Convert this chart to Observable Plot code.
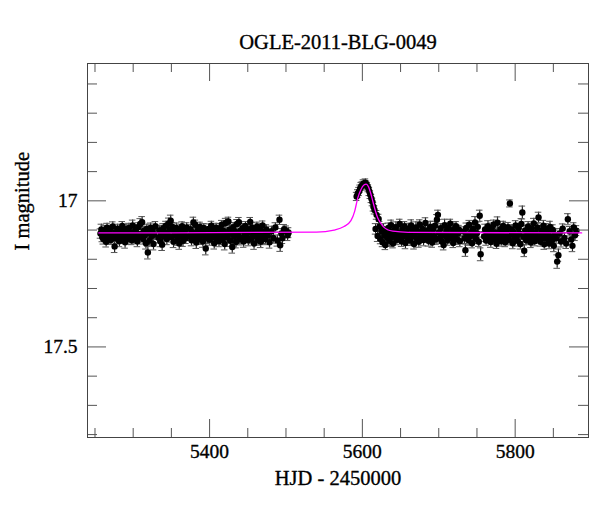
<!DOCTYPE html>
<html>
<head>
<meta charset="utf-8">
<script src="https://cdn.jsdelivr.net/npm/d3@7"></script>
<script src="https://cdn.jsdelivr.net/npm/@observablehq/plot@0.6"></script>
<style>
  html, body { margin: 0; padding: 0; background: #fff; }
</style>
</head>
<body>
<div id="chart"></div>
<script>
// ---------- data ----------
const title = "OGLE-2011-BLG-0049";
const xLabel = "HJD - 2450000";
const yLabel = "I magnitude";

const xMajor = [5400, 5600, 5800];
const xMinor = [5250, 5300, 5350, 5450, 5500, 5550, 5650, 5700, 5750, 5850];
const yMajor = [17, 17.5];
const yMinor = [16.6, 16.7, 16.8, 16.9, 17.1, 17.2, 17.3, 17.4, 17.6, 17.7, 17.8];

// 2010 season baseline
const t1 = [
5257.2,5258.4,5259.6,5260.9,5262.1,5263.2,5264.6,5265.8,5267.0,5268.3,
5269.5,5270.8,5272.0,5273.3,5274.5,5275.7,5277.0,5278.2,5279.5,5280.7,
5282.0,5283.2,5284.4,5285.7,5286.9,5288.2,5289.4,5290.6,5291.9,5293.1,
5294.4,5295.6,5296.8,5298.1,5299.3,5300.6,5301.8,5303.0,5304.3,5305.5,
5306.8,5308.0,5309.2,5310.5,5311.7,5313.0,5314.2,5315.4,5316.7,5317.9,
5319.2,5320.4,5321.6,5322.9,5324.1,5325.4,5326.6,5327.8,5329.1,5333.0,
5334.2,5335.5,5336.7,5337.9,5339.2,5340.4,5341.7,5342.9,5344.1,5345.4,
5346.6,5347.9,5349.1,5350.3,5351.6,5352.8,5354.1,5355.3,5356.5,5357.8,
5359.0,5360.3,5361.5,5362.7,5364.0,5365.2,5366.5,5367.7,5368.9,5370.0,
5373.9,5375.1,5376.4,5377.6,5378.8,5380.1,5381.3,5382.6,5383.8,5385.0,
5386.3,5387.5,5388.8,5390.0,5391.2,5392.5,5393.7,5395.0,5396.2,5397.4,
5398.7,5399.9,5401.2,5402.4,5403.6,5404.9,5406.1,5407.4,5408.6,5409.8,
5411.1,5412.3,5413.6,5414.8,5416.0,5417.3,5418.5,5419.8,5421.0,5422.2,
5423.5,5424.7,5426.0,5427.2,5428.4,5429.7,5430.9,5432.2,5433.4,5434.6,
5435.9,5437.1,5438.4,5439.6,5440.8,5442.1,5443.3,5444.6,5445.8,5447.0,
5448.3,5449.5,5450.8,5452.0,5453.2,5454.5,5455.7,5457.0,5458.2,5459.4,
5460.7,5461.9,5463.2,5464.4,5465.6,5466.9,5468.1,5469.4,5470.6,5471.8,
5473.1,5474.3,5476.2,5478.5,5481.0,5483.4,5486.1,5488.7,5491.5,5492.4,
5494.0,5495.3,5497.6,5500.2,5502.1,5503.4
];
const m1 = [
17.112,17.098,17.125,17.131,17.104,17.118,17.140,17.092,17.109,17.127,
17.101,17.134,17.117,17.088,17.121,17.156,17.107,17.129,17.095,17.113,
17.138,17.103,17.119,17.086,17.126,17.111,17.142,17.097,17.115,17.130,
17.093,17.121,17.108,17.135,17.084,17.117,17.128,17.100,17.112,17.139,
17.090,17.124,17.079,17.113,17.073,17.131,17.102,17.118,17.145,17.096,
17.177,17.109,17.136,17.092,17.120,17.103,17.148,17.115,17.087,17.126,
17.101,17.138,17.112,17.150,17.094,17.122,17.107,17.085,17.131,17.116,
17.077,17.098,17.068,17.124,17.089,17.140,17.105,17.118,17.093,17.133,
17.110,17.146,17.099,17.121,17.087,17.137,17.114,17.102,17.128,17.091,
17.119,17.097,17.135,17.108,17.074,17.126,17.082,17.143,17.111,17.099,
17.130,17.089,17.117,17.104,17.139,17.093,17.122,17.163,17.108,17.127,
17.096,17.133,17.112,17.085,17.124,17.101,17.145,17.116,17.092,17.129,
17.107,17.138,17.094,17.119,17.082,17.131,17.103,17.148,17.076,17.115,
17.126,17.071,17.099,17.137,17.112,17.158,17.090,17.123,17.105,17.141,
17.079,17.118,17.073,17.132,17.101,17.127,17.094,17.139,17.110,17.086,
17.124,17.097,17.135,17.108,17.072,17.129,17.091,17.116,17.146,17.103,
17.121,17.088,17.133,17.110,17.095,17.140,17.117,17.084,17.128,17.106,
17.131,17.098,17.119,17.142,17.104,17.127,17.091,17.136,17.065,17.152,
17.112,17.128,17.097,17.103,17.118,17.109
];
const e1 = [
.016,.018,.015,.017,.019,.016,.018,.015,.017,.020,
.017,.015,.018,.016,.019,.021,.016,.018,.015,.017,
.019,.016,.017,.015,.018,.016,.020,.017,.015,.018,
.016,.019,.017,.015,.018,.016,.017,.019,.016,.018,
.015,.017,.018,.016,.019,.017,.015,.018,.020,.016,
.022,.017,.019,.016,.018,.015,.020,.017,.016,.018,
.017,.019,.015,.020,.016,.018,.017,.015,.019,.016,
.018,.016,.019,.017,.015,.020,.016,.018,.017,.019,
.016,.020,.017,.018,.015,.019,.016,.017,.018,.016,
.017,.015,.019,.016,.018,.017,.016,.020,.017,.015,
.019,.016,.018,.017,.020,.015,.018,.022,.016,.019,
.017,.019,.016,.015,.018,.017,.020,.016,.015,.018,
.017,.019,.016,.018,.015,.019,.017,.020,.016,.018,
.018,.015,.017,.019,.016,.021,.016,.018,.017,.020,
.015,.018,.016,.019,.017,.018,.016,.020,.017,.015,
.018,.016,.019,.017,.015,.018,.016,.017,.020,.016,
.018,.015,.019,.017,.016,.020,.017,.015,.018,.016,
.019,.016,.018,.020,.017,.018,.016,.019,.016,.021,
.017,.018,.016,.017,.018,.017
];

// the event itself
const tp = [5592.5,5594.0,5595.6,5597.1,5598.5,5600.0,5601.4,5602.7,5604.0,5605.3,
            5606.5,5607.8,5609.1,5610.4,5611.8,5613.2,5614.5,5615.9,5617.3,5618.6,
            5620.0,5621.3];
const mp = [16.985,16.975,16.968,16.958,16.950,16.947,16.941,16.945,16.938,16.944,
            16.950,16.957,16.968,16.979,16.992,17.004,17.020,17.031,17.096,17.048,
            17.120,17.062];
const ep = [.014,.013,.014,.012,.013,.012,.013,.012,.013,.012,
            .013,.012,.014,.013,.014,.013,.015,.014,.018,.015,
            .019,.016];

// 2011 season after the event
const t2 = [
5622.6,5623.9,5625.1,5626.4,5627.6,5628.9,5630.1,5631.4,5632.6,5633.9,
5635.1,5636.4,5637.6,5638.9,5640.1,5641.4,5642.6,5643.9,5645.1,5646.4,
5647.6,5648.9,5650.1,5651.4,5652.6,5653.9,5655.1,5656.4,5657.6,5658.9,
5660.1,5661.4,5662.6,5663.9,5665.1,5666.4,5667.6,5668.9,5670.1,5671.4,
5672.6,5673.9,5675.1,5676.4,5677.6,5678.9,5680.1,5681.4,5682.6,5683.9,
5685.1,5686.4,5687.6,5688.9,5690.1,5691.4,5692.6,5693.9,5695.1,5696.4,
5697.6,5698.9,5700.1,5701.4,5702.6,5703.9,5705.1,5706.4,5707.6,5708.9,
5710.1,5711.4,5712.6,5713.9,5715.1,5716.4,5717.6,5718.9,5720.1,5721.4,
5722.6,5723.9,5725.1,5726.4,5727.6,5732.4,5733.6,5734.9,5736.1,5737.4,
5738.6,5739.9,5741.1,5742.4,5743.6,5744.9,5746.1,5747.4,5748.6,5749.9,
5751.1,5752.4,5753.6,5754.8,5759.4,5760.6,5761.9,5763.1,5764.4,5765.6,
5766.9,5768.1,5769.4,5770.6,5771.9,5773.1,5774.4,5775.6,5776.9,5778.1,
5779.4,5780.6,5781.9,5783.1,5784.4,5785.6,5786.9,5788.1,5789.4,5790.6,
5791.9,5793.1,5794.4,5795.6,5796.9,5798.1,5799.4,5800.6,5801.9,5803.1,
5804.4,5805.6,5806.9,5808.1,5809.4,5810.6,5811.9,5813.1,5814.4,5815.6,
5816.9,5818.1,5819.4,5820.6,5821.9,5823.1,5824.4,5825.6,5826.9,5828.1,
5829.4,5830.6,5831.9,5833.1,5834.4,5835.6,5836.9,5838.1,5839.4,5840.6,
5841.9,5843.1,5844.4,5845.6,5846.9,5848.1,5849.4,5850.6,5852.0,5853.5,
5855.0,5856.6,5858.1,5860.0,5862.2,5864.5,5866.8,5869.0,5871.3,5873.4,
5875.0,5876.6,5878.3,5880.2
];
const m2 = [
17.088,17.131,17.104,17.142,17.097,17.118,17.151,17.109,17.126,17.093,
17.137,17.112,17.083,17.124,17.146,17.101,17.119,17.090,17.133,17.107,
17.125,17.079,17.115,17.139,17.098,17.121,17.087,17.144,17.110,17.128,
17.095,17.117,17.136,17.084,17.122,17.103,17.148,17.113,17.091,17.130,
17.106,17.140,17.081,17.119,17.127,17.096,17.134,17.110,17.076,17.123,
17.101,17.137,17.114,17.089,17.129,17.143,17.098,17.120,17.085,17.132,
17.065,17.048,17.108,17.126,17.094,17.139,17.117,17.151,17.083,17.121,
17.103,17.135,17.092,17.118,17.078,17.127,17.109,17.144,17.096,17.124,
17.087,17.131,17.112,17.099,17.138,17.105,17.128,17.169,17.093,17.116,
17.134,17.082,17.121,17.107,17.145,17.096,17.118,17.074,17.130,17.111,
17.089,17.140,17.051,17.183,17.122,17.098,17.136,17.113,17.087,17.127,
17.104,17.141,17.093,17.119,17.081,17.131,17.108,17.147,17.075,17.116,
17.129,17.097,17.138,17.111,17.086,17.124,17.142,17.102,17.119,17.090,
17.133,17.009,17.115,17.098,17.145,17.107,17.126,17.084,17.120,17.137,
17.094,17.112,17.148,17.079,17.040,17.123,17.171,17.101,17.135,17.117,
17.088,17.130,17.106,17.143,17.095,17.121,17.077,17.138,17.110,17.126,
17.092,17.057,17.119,17.140,17.103,17.128,17.085,17.149,17.114,17.097,
17.131,17.108,17.146,17.089,17.122,17.137,17.100,17.154,17.116,17.128,
17.208,17.186,17.112,17.139,17.095,17.127,17.146,17.063,17.104,17.132,
17.154,17.091,17.118,17.102
];
const e2 = [
.017,.016,.018,.015,.019,.017,.016,.018,.015,.017,
.019,.016,.017,.018,.015,.020,.016,.018,.017,.015,
.018,.016,.019,.017,.015,.018,.016,.020,.017,.016,
.018,.015,.017,.019,.016,.018,.017,.015,.019,.016,
.017,.019,.016,.018,.015,.017,.020,.016,.018,.017,
.016,.018,.015,.019,.017,.016,.018,.020,.015,.017,
.018,.016,.017,.019,.016,.018,.015,.017,.020,.016,
.018,.017,.016,.019,.015,.018,.017,.016,.019,.017,
.016,.018,.017,.015,.019,.016,.018,.021,.017,.016,
.018,.015,.017,.019,.016,.018,.017,.020,.016,.018,
.017,.016,.019,.022,.017,.018,.016,.015,.019,.017,
.016,.018,.017,.019,.015,.017,.018,.016,.020,.017,
.018,.016,.017,.019,.016,.018,.015,.017,.019,.016,
.018,.012,.017,.016,.019,.017,.018,.016,.015,.018,
.016,.019,.017,.018,.022,.016,.020,.017,.015,.018,
.017,.016,.019,.017,.018,.015,.017,.016,.019,.018,
.016,.018,.017,.015,.019,.016,.018,.017,.016,.019,
.017,.016,.018,.019,.016,.017,.018,.020,.016,.017,
.023,.021,.017,.019,.016,.018,.017,.019,.016,.018,
.020,.016,.018,.017
];

// fitted model curve (magenta)
const modelT = [5255, 5540, 5563, 5576, 5585, 5590, 5594, 5598, 5602, 5605,
                5608, 5611, 5614, 5617, 5620, 5624, 5628, 5633, 5640, 5660, 5887];
const modelM = [17.110, 17.107, 17.100, 17.088, 17.068, 17.035, 16.990, 16.962, 16.946, 16.943,
                16.952, 16.975, 17.005, 17.034, 17.058, 17.076, 17.090, 17.099, 17.104, 17.108, 17.110];

// ---------- chart ----------
const W = 600, H = 512;
const mL = 87, mR = 12, mT = 63, mB = 75;
const fw = W - mL - mR, fh = H - mT - mB;
const minorLen = 9, majorLen = 18;
const capDays = 4.3;
const font = "'Liberation Serif', 'Times New Roman', serif";
const axisColor = "#555";
const textStyle = {fill: "#000", stroke: "#000", strokeWidth: 0.35, fontFamily: font};

const rows = (t, m, e) => t.map((x, i) => ({t: x, m: m[i], e: e[i]}))
  .filter(d => d.m != null && d.e != null);
const obs = [...rows(t1, m1, e1), ...rows(tp, mp, ep), ...rows(t2, m2, e2)];
const model = modelT.map((x, i) => ({t: x, m: modelM[i]}));

const chart = Plot.plot({
  width: W, height: H,
  marginLeft: mL, marginRight: mR, marginTop: mT, marginBottom: mB,
  style: {background: "white", fontFamily: font, overflow: "visible"},
  x: {domain: [5240.2, 5896], axis: null},
  y: {domain: [16.53, 17.81], reverse: true, axis: null},
  marks: [
    // error bars
    Plot.ruleX(obs, {x: "t", y1: d => d.m - d.e, y2: d => d.m + d.e, stroke: "#222", strokeWidth: 1.2}),
    Plot.ruleY(obs, {y: d => d.m + d.e, x1: d => d.t - capDays, x2: d => d.t + capDays, stroke: "#555", strokeWidth: 1}),
    Plot.ruleY(obs, {y: d => d.m - d.e, x1: d => d.t - capDays, x2: d => d.t + capDays, stroke: "#555", strokeWidth: 1}),
    Plot.dot(obs, {x: "t", y: "m", r: 3.2, fill: "black", stroke: "none"}),
    // model
    Plot.line(model, {x: "t", y: "m", stroke: "#ff00ff", strokeWidth: 1.3, curve: "monotone-x"}),
    // ticks (inward, all four sides)
    Plot.tickX(xMinor, {x: d => d, insetTop: fh - minorLen, stroke: axisColor}),
    Plot.tickX(xMinor, {x: d => d, insetBottom: fh - minorLen, stroke: axisColor}),
    Plot.tickX(xMajor, {x: d => d, insetTop: fh - majorLen, stroke: axisColor}),
    Plot.tickX(xMajor, {x: d => d, insetBottom: fh - majorLen, stroke: axisColor}),
    Plot.tickY(yMinor, {y: d => d, insetRight: fw - 10, stroke: axisColor}),
    Plot.tickY(yMinor, {y: d => d, insetLeft: fw - 10, stroke: axisColor}),
    Plot.tickY(yMajor, {y: d => d, insetRight: fw - 19, stroke: axisColor}),
    Plot.tickY(yMajor, {y: d => d, insetLeft: fw - 19, stroke: axisColor}),
    Plot.frame({stroke: "#444", strokeWidth: 1}),
    // tick labels
    Plot.text(xMajor, {x: d => d, frameAnchor: "bottom", dy: 20, text: d => String(d),
      fontSize: 19.5, ...textStyle}),
    Plot.text(yMajor, {y: d => d, frameAnchor: "left", dx: -10, textAnchor: "end", text: d => String(d),
      fontSize: 19.5, ...textStyle}),
    // titles
    Plot.text([title], {frameAnchor: "top", dy: -29, text: d => d, fontSize: 20.5, ...textStyle}),
    Plot.text([xLabel], {frameAnchor: "bottom", dy: 47, text: d => d, fontSize: 20.5, ...textStyle}),
    Plot.text([yLabel], {frameAnchor: "left", dx: -65, rotate: -90, text: d => d, fontSize: 20.5, ...textStyle})
  ]
});
document.getElementById("chart").appendChild(chart);
</script>
</body>
</html>
